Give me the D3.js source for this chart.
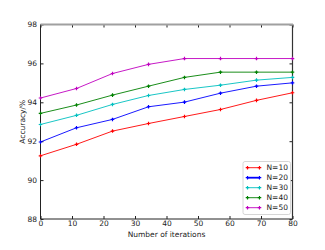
<!DOCTYPE html>
<html lang="en">
<head>
    <meta charset="UTF-8">
    <title>Accuracy vs iterations</title>
    <style>
        body {
            margin: 0;
            padding: 0;
            background-color: #ffffff;
        }
        svg text {
            font-family: 'DejaVu Sans', sans-serif;
            fill: #222222;
        }
    </style>
</head>
<body>
    <svg id="chart" width="325" height="250"></svg>
    <script src="https://d3js.org/d3.v7.min.js"></script>
    <script>
        const iterations = [0, 11.43, 22.86, 34.29, 45.71, 57.14, 68.57, 80];
        const n10 = [91.25, 91.84, 92.52, 92.91, 93.27, 93.63, 94.10, 94.49];
        const n20 = [91.96, 92.69, 93.12, 93.77, 94.01, 94.47, 94.83, 95.00];
        const n30 = [92.86, 93.33, 93.89, 94.35, 94.66, 94.88, 95.14, 95.28];
        const n40 = [93.43, 93.86, 94.37, 94.83, 95.28, 95.55, 95.55, 95.55];
        const n50 = [94.22, 94.71, 95.48, 95.95, 96.25, 96.25, 96.25, 96.25];
        const seriesNames = ["N=10", "N=20", "N=30", "N=40", "N=50"];
        const seriesColors = ["#ff0000", "#0000ff", "#00bfbf", "#008000", "#bf00bf"];
        const xTicks = [0, 10, 20, 30, 40, 50, 60, 70, 80];
        const yTicks = [88, 90, 92, 94, 96, 98];

        const series = [n10, n20, n30, n40, n50].map((vals, i) => ({
            name: seriesNames[i],
            color: seriesColors[i],
            points: vals.map((v, j) => ({x: iterations[j], y: v}))
        }));

        const svg = d3.select("#chart");
        const plot = {left: 40.5, right: 292.5, top: 24.5, bottom: 219};
        const x = d3.scaleLinear().domain([0, 80]).range([plot.left, plot.right]);
        const y = d3.scaleLinear().domain([88, 98]).range([plot.bottom, plot.top]);

        // inward ticks on all four sides, classic matplotlib look
        const tickLen = 3;
        svg.append("g")
            .attr("transform", `translate(0, ${plot.bottom})`)
            .call(d3.axisBottom(x).tickValues(xTicks).tickSizeInner(-tickLen).tickSizeOuter(0).tickPadding(2))
            .call(g => g.select(".domain").remove())
            .call(g => g.selectAll("line").attr("stroke", "#222"))
            .call(g => g.selectAll("text").attr("font-size", 7.5));
        svg.append("g")
            .attr("transform", `translate(0, ${plot.top})`)
            .call(d3.axisTop(x).tickValues(xTicks).tickSizeInner(-tickLen).tickSizeOuter(0).tickFormat(""))
            .call(g => g.select(".domain").remove())
            .call(g => g.selectAll("line").attr("stroke", "#222"));
        svg.append("g")
            .attr("transform", `translate(${plot.left}, 0)`)
            .call(d3.axisLeft(y).tickValues(yTicks).tickSizeInner(-tickLen).tickSizeOuter(0).tickPadding(3.5))
            .call(g => g.select(".domain").remove())
            .call(g => g.selectAll("line").attr("stroke", "#222"))
            .call(g => g.selectAll("text").attr("font-size", 7.5));
        svg.append("g")
            .attr("transform", `translate(${plot.right}, 0)`)
            .call(d3.axisRight(y).tickValues(yTicks).tickSizeInner(-tickLen).tickSizeOuter(0).tickFormat(""))
            .call(g => g.select(".domain").remove())
            .call(g => g.selectAll("line").attr("stroke", "#222"));

        // spines
        svg.append("line").attr("x1", plot.left).attr("x2", plot.left).attr("y1", plot.top).attr("y2", plot.bottom)
            .attr("stroke", "#222").attr("stroke-width", 1);
        svg.append("line").attr("x1", plot.right).attr("x2", plot.right).attr("y1", plot.top).attr("y2", plot.bottom)
            .attr("stroke", "#333").attr("stroke-width", 1.2);
        svg.append("line").attr("x1", plot.left).attr("x2", plot.right).attr("y1", plot.bottom).attr("y2", plot.bottom)
            .attr("stroke", "#222").attr("stroke-width", 1);
        svg.append("line").attr("x1", plot.left).attr("x2", plot.right + 0.5).attr("y1", plot.top).attr("y2", plot.top)
            .attr("stroke", "#a0a0a0").attr("stroke-width", 2);

        const line = d3.line().x(d => x(d.x)).y(d => y(d.y));
        const marker = d3.symbol().type(d3.symbolCross).size(7);

        series.forEach(s => {
            svg.append("path")
                .datum(s.points)
                .attr("d", line)
                .attr("fill", "none")
                .attr("stroke", s.color)
                .attr("stroke-width", 0.9);
            svg.append("g").selectAll("path")
                .data(s.points)
                .enter()
                .append("path")
                .attr("d", marker)
                .attr("transform", d => `translate(${x(d.x)}, ${y(d.y)})`)
                .attr("fill", s.color);
        });

        // axis labels
        svg.append("text")
            .attr("x", (plot.left + plot.right) / 2)
            .attr("y", 237)
            .attr("text-anchor", "middle")
            .attr("font-size", 7.5)
            .text("Number of iterations");
        svg.append("text")
            .attr("transform", `translate(25, ${(plot.top + plot.bottom) / 2}) rotate(-90)`)
            .attr("text-anchor", "middle")
            .attr("font-size", 7.5)
            .text("Accuracy/%");

        // legend
        const legend = svg.append("g");
        legend.append("rect")
            .attr("x", 243).attr("y", 161.5)
            .attr("width", 47.5).attr("height", 53)
            .attr("rx", 2)
            .attr("fill", "#ffffff")
            .attr("stroke", "#cccccc")
            .attr("stroke-width", 0.8);
        series.forEach((s, i) => {
            const ly = 167.7 + i * 10;
            legend.append("line")
                .attr("x1", 247.5).attr("x2", 259.5)
                .attr("y1", ly).attr("y2", ly)
                .attr("stroke", s.color)
                .attr("stroke-width", i === 1 ? 1.8 : 0.9);
            [247.5, 259.5].forEach(mx => {
                legend.append("path")
                    .attr("d", marker)
                    .attr("transform", `translate(${mx}, ${ly})`)
                    .attr("fill", s.color);
            });
            legend.append("text")
                .attr("x", 266.5)
                .attr("y", ly)
                .attr("dy", "0.35em")
                .attr("font-size", 7.5)
                .text(s.name);
        });
    </script>
</body>
</html>
